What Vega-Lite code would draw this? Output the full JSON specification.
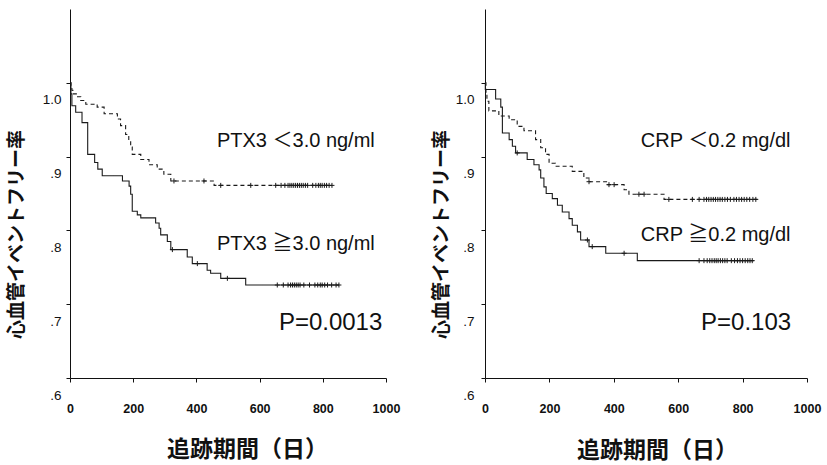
{
  "$schema": "https://vega.github.io/schema/vega-lite/v6.json",
  "background": "white",
  "padding": {"left": 7, "top": 9, "right": 5, "bottom": 5},
  "config": {"view": {"stroke": null}},
  "bounds": "flush",
  "spacing": 99,
  "datasets": {
    "km": [
      {"panel":"PTX3","grp":"low","kind":"step","t":0,"s":1.0},
      {"panel":"PTX3","grp":"low","kind":"step","t":3,"s":0.995},
      {"panel":"PTX3","grp":"low","kind":"step","t":6,"s":0.99},
      {"panel":"PTX3","grp":"low","kind":"step","t":9,"s":0.985},
      {"panel":"PTX3","grp":"low","kind":"step","t":20,"s":0.981},
      {"panel":"PTX3","grp":"low","kind":"step","t":34,"s":0.976},
      {"panel":"PTX3","grp":"low","kind":"step","t":50,"s":0.971},
      {"panel":"PTX3","grp":"low","kind":"step","t":86,"s":0.967},
      {"panel":"PTX3","grp":"low","kind":"step","t":108,"s":0.958},
      {"panel":"PTX3","grp":"low","kind":"step","t":150,"s":0.951},
      {"panel":"PTX3","grp":"low","kind":"step","t":160,"s":0.942},
      {"panel":"PTX3","grp":"low","kind":"step","t":176,"s":0.93},
      {"panel":"PTX3","grp":"low","kind":"step","t":186,"s":0.921},
      {"panel":"PTX3","grp":"low","kind":"step","t":192,"s":0.913},
      {"panel":"PTX3","grp":"low","kind":"step","t":197,"s":0.903},
      {"panel":"PTX3","grp":"low","kind":"step","t":224,"s":0.896},
      {"panel":"PTX3","grp":"low","kind":"step","t":250,"s":0.889},
      {"panel":"PTX3","grp":"low","kind":"step","t":276,"s":0.883},
      {"panel":"PTX3","grp":"low","kind":"step","t":297,"s":0.876},
      {"panel":"PTX3","grp":"low","kind":"step","t":319,"s":0.867},
      {"panel":"PTX3","grp":"low","kind":"step","t":456,"s":0.861},
      {"panel":"PTX3","grp":"low","kind":"step","t":829,"s":0.861},
      {"panel":"PTX3","grp":"high","kind":"step","t":0,"s":1.0},
      {"panel":"PTX3","grp":"high","kind":"step","t":3,"s":0.985},
      {"panel":"PTX3","grp":"high","kind":"step","t":6,"s":0.969},
      {"panel":"PTX3","grp":"high","kind":"step","t":18,"s":0.96},
      {"panel":"PTX3","grp":"high","kind":"step","t":38,"s":0.946},
      {"panel":"PTX3","grp":"high","kind":"step","t":56,"s":0.903},
      {"panel":"PTX3","grp":"high","kind":"step","t":78,"s":0.892},
      {"panel":"PTX3","grp":"high","kind":"step","t":88,"s":0.883},
      {"panel":"PTX3","grp":"high","kind":"step","t":102,"s":0.874},
      {"panel":"PTX3","grp":"high","kind":"step","t":166,"s":0.867},
      {"panel":"PTX3","grp":"high","kind":"step","t":187,"s":0.86},
      {"panel":"PTX3","grp":"high","kind":"step","t":192,"s":0.849},
      {"panel":"PTX3","grp":"high","kind":"step","t":197,"s":0.826},
      {"panel":"PTX3","grp":"high","kind":"step","t":213,"s":0.821},
      {"panel":"PTX3","grp":"high","kind":"step","t":224,"s":0.817},
      {"panel":"PTX3","grp":"high","kind":"step","t":271,"s":0.81},
      {"panel":"PTX3","grp":"high","kind":"step","t":282,"s":0.803},
      {"panel":"PTX3","grp":"high","kind":"step","t":287,"s":0.794},
      {"panel":"PTX3","grp":"high","kind":"step","t":308,"s":0.785},
      {"panel":"PTX3","grp":"high","kind":"step","t":319,"s":0.774},
      {"panel":"PTX3","grp":"high","kind":"step","t":371,"s":0.764},
      {"panel":"PTX3","grp":"high","kind":"step","t":387,"s":0.755},
      {"panel":"PTX3","grp":"high","kind":"step","t":434,"s":0.746},
      {"panel":"PTX3","grp":"high","kind":"step","t":445,"s":0.742},
      {"panel":"PTX3","grp":"high","kind":"step","t":477,"s":0.735},
      {"panel":"PTX3","grp":"high","kind":"step","t":556,"s":0.726},
      {"panel":"PTX3","grp":"high","kind":"step","t":851,"s":0.726},
      {"panel":"PTX3","grp":"low","kind":"censor","t":329,"s":0.867},
      {"panel":"PTX3","grp":"low","kind":"censor","t":424,"s":0.867},
      {"panel":"PTX3","grp":"low","kind":"censor","t":477,"s":0.861},
      {"panel":"PTX3","grp":"low","kind":"censor","t":572,"s":0.861},
      {"panel":"PTX3","grp":"low","kind":"censor","t":651,"s":0.861},
      {"panel":"PTX3","grp":"low","kind":"censor","t":668,"s":0.861},
      {"panel":"PTX3","grp":"low","kind":"censor","t":680,"s":0.861},
      {"panel":"PTX3","grp":"low","kind":"censor","t":690,"s":0.861},
      {"panel":"PTX3","grp":"low","kind":"censor","t":696,"s":0.861},
      {"panel":"PTX3","grp":"low","kind":"censor","t":702,"s":0.861},
      {"panel":"PTX3","grp":"low","kind":"censor","t":708,"s":0.861},
      {"panel":"PTX3","grp":"low","kind":"censor","t":714,"s":0.861},
      {"panel":"PTX3","grp":"low","kind":"censor","t":720,"s":0.861},
      {"panel":"PTX3","grp":"low","kind":"censor","t":726,"s":0.861},
      {"panel":"PTX3","grp":"low","kind":"censor","t":732,"s":0.861},
      {"panel":"PTX3","grp":"low","kind":"censor","t":738,"s":0.861},
      {"panel":"PTX3","grp":"low","kind":"censor","t":745,"s":0.861},
      {"panel":"PTX3","grp":"low","kind":"censor","t":752,"s":0.861},
      {"panel":"PTX3","grp":"low","kind":"censor","t":768,"s":0.861},
      {"panel":"PTX3","grp":"low","kind":"censor","t":778,"s":0.861},
      {"panel":"PTX3","grp":"low","kind":"censor","t":786,"s":0.861},
      {"panel":"PTX3","grp":"low","kind":"censor","t":792,"s":0.861},
      {"panel":"PTX3","grp":"low","kind":"censor","t":798,"s":0.861},
      {"panel":"PTX3","grp":"low","kind":"censor","t":805,"s":0.861},
      {"panel":"PTX3","grp":"low","kind":"censor","t":812,"s":0.861},
      {"panel":"PTX3","grp":"low","kind":"censor","t":820,"s":0.861},
      {"panel":"PTX3","grp":"low","kind":"censor","t":829,"s":0.861},
      {"panel":"PTX3","grp":"high","kind":"censor","t":324,"s":0.774},
      {"panel":"PTX3","grp":"high","kind":"censor","t":403,"s":0.755},
      {"panel":"PTX3","grp":"high","kind":"censor","t":498,"s":0.735},
      {"panel":"PTX3","grp":"high","kind":"censor","t":656,"s":0.726},
      {"panel":"PTX3","grp":"high","kind":"censor","t":675,"s":0.726},
      {"panel":"PTX3","grp":"high","kind":"censor","t":690,"s":0.726},
      {"panel":"PTX3","grp":"high","kind":"censor","t":698,"s":0.726},
      {"panel":"PTX3","grp":"high","kind":"censor","t":704,"s":0.726},
      {"panel":"PTX3","grp":"high","kind":"censor","t":710,"s":0.726},
      {"panel":"PTX3","grp":"high","kind":"censor","t":716,"s":0.726},
      {"panel":"PTX3","grp":"high","kind":"censor","t":722,"s":0.726},
      {"panel":"PTX3","grp":"high","kind":"censor","t":728,"s":0.726},
      {"panel":"PTX3","grp":"high","kind":"censor","t":740,"s":0.726},
      {"panel":"PTX3","grp":"high","kind":"censor","t":758,"s":0.726},
      {"panel":"PTX3","grp":"high","kind":"censor","t":775,"s":0.726},
      {"panel":"PTX3","grp":"high","kind":"censor","t":784,"s":0.726},
      {"panel":"PTX3","grp":"high","kind":"censor","t":792,"s":0.726},
      {"panel":"PTX3","grp":"high","kind":"censor","t":798,"s":0.726},
      {"panel":"PTX3","grp":"high","kind":"censor","t":806,"s":0.726},
      {"panel":"PTX3","grp":"high","kind":"censor","t":815,"s":0.726},
      {"panel":"PTX3","grp":"high","kind":"censor","t":828,"s":0.726},
      {"panel":"PTX3","grp":"high","kind":"censor","t":842,"s":0.726},
      {"panel":"PTX3","grp":"high","kind":"censor","t":851,"s":0.726},
      {"panel":"CRP","grp":"low","kind":"step","t":0,"s":1.0},
      {"panel":"CRP","grp":"low","kind":"step","t":3,"s":0.985},
      {"panel":"CRP","grp":"low","kind":"step","t":6,"s":0.975},
      {"panel":"CRP","grp":"low","kind":"step","t":12,"s":0.962},
      {"panel":"CRP","grp":"low","kind":"step","t":43,"s":0.955},
      {"panel":"CRP","grp":"low","kind":"step","t":75,"s":0.95},
      {"panel":"CRP","grp":"low","kind":"step","t":100,"s":0.941},
      {"panel":"CRP","grp":"low","kind":"step","t":121,"s":0.935},
      {"panel":"CRP","grp":"low","kind":"step","t":157,"s":0.923},
      {"panel":"CRP","grp":"low","kind":"step","t":173,"s":0.912},
      {"panel":"CRP","grp":"low","kind":"step","t":188,"s":0.903},
      {"panel":"CRP","grp":"low","kind":"step","t":199,"s":0.891},
      {"panel":"CRP","grp":"low","kind":"step","t":219,"s":0.887},
      {"panel":"CRP","grp":"low","kind":"step","t":271,"s":0.88},
      {"panel":"CRP","grp":"low","kind":"step","t":307,"s":0.871},
      {"panel":"CRP","grp":"low","kind":"step","t":323,"s":0.866},
      {"panel":"CRP","grp":"low","kind":"step","t":380,"s":0.862},
      {"panel":"CRP","grp":"low","kind":"step","t":432,"s":0.855},
      {"panel":"CRP","grp":"low","kind":"step","t":447,"s":0.849},
      {"panel":"CRP","grp":"low","kind":"step","t":556,"s":0.842},
      {"panel":"CRP","grp":"low","kind":"step","t":851,"s":0.842},
      {"panel":"CRP","grp":"high","kind":"step","t":0,"s":1.0},
      {"panel":"CRP","grp":"high","kind":"step","t":1,"s":0.991},
      {"panel":"CRP","grp":"high","kind":"step","t":33,"s":0.978},
      {"panel":"CRP","grp":"high","kind":"step","t":49,"s":0.967},
      {"panel":"CRP","grp":"high","kind":"step","t":54,"s":0.932},
      {"panel":"CRP","grp":"high","kind":"step","t":75,"s":0.923},
      {"panel":"CRP","grp":"high","kind":"step","t":85,"s":0.914},
      {"panel":"CRP","grp":"high","kind":"step","t":95,"s":0.905},
      {"panel":"CRP","grp":"high","kind":"step","t":131,"s":0.896},
      {"panel":"CRP","grp":"high","kind":"step","t":152,"s":0.889},
      {"panel":"CRP","grp":"high","kind":"step","t":168,"s":0.882},
      {"panel":"CRP","grp":"high","kind":"step","t":173,"s":0.871},
      {"panel":"CRP","grp":"high","kind":"step","t":183,"s":0.859},
      {"panel":"CRP","grp":"high","kind":"step","t":190,"s":0.85},
      {"panel":"CRP","grp":"high","kind":"step","t":209,"s":0.843},
      {"panel":"CRP","grp":"high","kind":"step","t":225,"s":0.834},
      {"panel":"CRP","grp":"high","kind":"step","t":240,"s":0.825},
      {"panel":"CRP","grp":"high","kind":"step","t":261,"s":0.816},
      {"panel":"CRP","grp":"high","kind":"step","t":271,"s":0.807},
      {"panel":"CRP","grp":"high","kind":"step","t":287,"s":0.798},
      {"panel":"CRP","grp":"high","kind":"step","t":297,"s":0.787},
      {"panel":"CRP","grp":"high","kind":"step","t":323,"s":0.778},
      {"panel":"CRP","grp":"high","kind":"step","t":375,"s":0.769},
      {"panel":"CRP","grp":"high","kind":"step","t":473,"s":0.759},
      {"panel":"CRP","grp":"high","kind":"step","t":835,"s":0.759},
      {"panel":"CRP","grp":"low","kind":"censor","t":323,"s":0.866},
      {"panel":"CRP","grp":"low","kind":"censor","t":385,"s":0.862},
      {"panel":"CRP","grp":"low","kind":"censor","t":401,"s":0.862},
      {"panel":"CRP","grp":"low","kind":"censor","t":478,"s":0.849},
      {"panel":"CRP","grp":"low","kind":"censor","t":494,"s":0.849},
      {"panel":"CRP","grp":"low","kind":"censor","t":571,"s":0.842},
      {"panel":"CRP","grp":"low","kind":"censor","t":644,"s":0.842},
      {"panel":"CRP","grp":"low","kind":"censor","t":665,"s":0.842},
      {"panel":"CRP","grp":"low","kind":"censor","t":680,"s":0.842},
      {"panel":"CRP","grp":"low","kind":"censor","t":688,"s":0.842},
      {"panel":"CRP","grp":"low","kind":"censor","t":695,"s":0.842},
      {"panel":"CRP","grp":"low","kind":"censor","t":702,"s":0.842},
      {"panel":"CRP","grp":"low","kind":"censor","t":709,"s":0.842},
      {"panel":"CRP","grp":"low","kind":"censor","t":716,"s":0.842},
      {"panel":"CRP","grp":"low","kind":"censor","t":723,"s":0.842},
      {"panel":"CRP","grp":"low","kind":"censor","t":730,"s":0.842},
      {"panel":"CRP","grp":"low","kind":"censor","t":737,"s":0.842},
      {"panel":"CRP","grp":"low","kind":"censor","t":745,"s":0.842},
      {"panel":"CRP","grp":"low","kind":"censor","t":753,"s":0.842},
      {"panel":"CRP","grp":"low","kind":"censor","t":762,"s":0.842},
      {"panel":"CRP","grp":"low","kind":"censor","t":773,"s":0.842},
      {"panel":"CRP","grp":"low","kind":"censor","t":781,"s":0.842},
      {"panel":"CRP","grp":"low","kind":"censor","t":789,"s":0.842},
      {"panel":"CRP","grp":"low","kind":"censor","t":797,"s":0.842},
      {"panel":"CRP","grp":"low","kind":"censor","t":805,"s":0.842},
      {"panel":"CRP","grp":"low","kind":"censor","t":813,"s":0.842},
      {"panel":"CRP","grp":"low","kind":"censor","t":822,"s":0.842},
      {"panel":"CRP","grp":"low","kind":"censor","t":832,"s":0.842},
      {"panel":"CRP","grp":"low","kind":"censor","t":841,"s":0.842},
      {"panel":"CRP","grp":"high","kind":"censor","t":100,"s":0.905},
      {"panel":"CRP","grp":"high","kind":"censor","t":318,"s":0.787},
      {"panel":"CRP","grp":"high","kind":"censor","t":333,"s":0.778},
      {"panel":"CRP","grp":"high","kind":"censor","t":432,"s":0.769},
      {"panel":"CRP","grp":"high","kind":"censor","t":665,"s":0.759},
      {"panel":"CRP","grp":"high","kind":"censor","t":680,"s":0.759},
      {"panel":"CRP","grp":"high","kind":"censor","t":690,"s":0.759},
      {"panel":"CRP","grp":"high","kind":"censor","t":698,"s":0.759},
      {"panel":"CRP","grp":"high","kind":"censor","t":705,"s":0.759},
      {"panel":"CRP","grp":"high","kind":"censor","t":712,"s":0.759},
      {"panel":"CRP","grp":"high","kind":"censor","t":718,"s":0.759},
      {"panel":"CRP","grp":"high","kind":"censor","t":724,"s":0.759},
      {"panel":"CRP","grp":"high","kind":"censor","t":731,"s":0.759},
      {"panel":"CRP","grp":"high","kind":"censor","t":738,"s":0.759},
      {"panel":"CRP","grp":"high","kind":"censor","t":745,"s":0.759},
      {"panel":"CRP","grp":"high","kind":"censor","t":752,"s":0.759},
      {"panel":"CRP","grp":"high","kind":"censor","t":765,"s":0.759},
      {"panel":"CRP","grp":"high","kind":"censor","t":775,"s":0.759},
      {"panel":"CRP","grp":"high","kind":"censor","t":784,"s":0.759},
      {"panel":"CRP","grp":"high","kind":"censor","t":792,"s":0.759},
      {"panel":"CRP","grp":"high","kind":"censor","t":800,"s":0.759},
      {"panel":"CRP","grp":"high","kind":"censor","t":808,"s":0.759},
      {"panel":"CRP","grp":"high","kind":"censor","t":816,"s":0.759},
      {"panel":"CRP","grp":"high","kind":"censor","t":823,"s":0.759},
      {"panel":"CRP","grp":"high","kind":"censor","t":830,"s":0.759}
    ],
    "notes": [
      {"panel":"PTX3","kind":"group","t":465,"s":0.921,"label":"PTX3 ＜3.0 ng/ml"},
      {"panel":"PTX3","kind":"group","t":465,"s":0.782,"label":"PTX3 ≧3.0 ng/ml"},
      {"panel":"PTX3","kind":"p","t":661,"s":0.674,"label":"P=0.0013"},
      {"panel":"CRP","kind":"group","t":484,"s":0.921,"label":"CRP ＜0.2 mg/dl"},
      {"panel":"CRP","kind":"group","t":484,"s":0.794,"label":"CRP ≧0.2 mg/dl"},
      {"panel":"CRP","kind":"p","t":671,"s":0.675,"label":"P=0.103"}
    ]
  },
  "hconcat": [
    {
      "width": 316,
      "height": 369,
      "encoding": {
        "x": {"field": "t", "type": "quantitative", "scale": {"domain": [0, 1000], "nice": false},
          "axis": {"title": "追跡期間（日）", "values": [0, 200, 400, 600, 800, 1000], "format": "d", "grid": false, "domainColor": "#111", "tickColor": "#111", "tickSize": 4, "labelPadding": 20, "labelFlush": false, "labelFontSize": 12.5, "labelFont": "Liberation Sans", "labelFontWeight": "bold", "labelColor": "#111", "titleFont": "Noto Sans CJK JP", "titleFontSize": 23, "titleFontWeight": "bold", "titleColor": "#111", "titleX": 177, "titleY": 71, "titleBaseline": "middle", "titleAlign": "center"}},
        "y": {"field": "s", "type": "quantitative", "scale": {"domain": [0.6, 1.1], "nice": false, "zero": false},
          "axis": {"title": "心血管イベントフリー率", "values": [0.6, 0.7, 0.8, 0.9, 1.0], "labelExpr": "datum.value > 0.99 ? '1.0' : replace(format(datum.value, '.1f'), '0.', '.')", "grid": false, "domainColor": "#111", "tickColor": "#111", "tickSize": 4, "labelPadding": 5, "labelOffset": 17, "labelFlush": false, "labelOverlap": false, "labelFontSize": 13.5, "labelFont": "Liberation Sans", "labelColor": "#111", "titleFont": "Noto Sans CJK JP", "titleFontSize": 19, "titleFontWeight": "bold", "titleColor": "#111", "titleAngle": -90, "titleX": -54, "titleY": 225, "titleBaseline": "middle", "titleAlign": "center"}}
      },
      "layer": [
        {
          "data": {"name": "km"},
          "transform": [{"filter": "datum.panel == 'PTX3' && datum.kind == 'step'"}],
          "mark": {"type": "line", "interpolate": "step-after", "color": "#1a1a1a", "strokeWidth": 1.1},
          "encoding": {
            "strokeDash": {"field": "grp", "type": "nominal", "scale": {"domain": ["low", "high"], "range": [[4, 3], [1, 0]]}, "legend": null}
          }
        },
        {
          "data": {"name": "km"},
          "transform": [{"filter": "datum.panel == 'PTX3' && datum.kind == 'censor'"}],
          "mark": {"type": "point", "shape": "M-1,0H1M0,-1V1", "size": 25, "filled": false, "stroke": "#1a1a1a", "strokeWidth": 1, "opacity": 1}
        },
        {
          "data": {"name": "notes"},
          "transform": [{"filter": "datum.panel == 'PTX3' && datum.kind == 'group'"}],
          "mark": {"type": "text", "align": "left", "baseline": "middle", "fontSize": 20, "font": "Liberation Sans, Noto Sans CJK JP", "color": "#111"},
          "encoding": {"text": {"field": "label"}}
        },
        {
          "data": {"name": "notes"},
          "transform": [{"filter": "datum.panel == 'PTX3' && datum.kind == 'p'"}],
          "mark": {"type": "text", "align": "left", "baseline": "middle", "fontSize": 24, "font": "Liberation Sans", "color": "#111"},
          "encoding": {"text": {"field": "label"}}
        }
      ]
    },
    {
      "width": 322,
      "height": 369,
      "encoding": {
        "x": {"field": "t", "type": "quantitative", "scale": {"domain": [0, 1000], "nice": false},
          "axis": {"title": "追跡期間（日）", "values": [0, 200, 400, 600, 800, 1000], "format": "d", "grid": false, "domainColor": "#111", "tickColor": "#111", "tickSize": 4, "labelPadding": 20, "labelFlush": false, "labelFontSize": 12.5, "labelFont": "Liberation Sans", "labelFontWeight": "bold", "labelColor": "#111", "titleFont": "Noto Sans CJK JP", "titleFontSize": 23, "titleFontWeight": "bold", "titleColor": "#111", "titleX": 172, "titleY": 72, "titleBaseline": "middle", "titleAlign": "center"}},
        "y": {"field": "s", "type": "quantitative", "scale": {"domain": [0.6, 1.1], "nice": false, "zero": false},
          "axis": {"title": "心血管イベントフリー率", "values": [0.6, 0.7, 0.8, 0.9, 1.0], "labelExpr": "datum.value > 0.99 ? '1.0' : replace(format(datum.value, '.1f'), '0.', '.')", "grid": false, "domainColor": "#111", "tickColor": "#111", "tickSize": 4, "labelPadding": 7, "labelOffset": 17, "labelFlush": false, "labelOverlap": false, "labelFontSize": 13.5, "labelFont": "Liberation Sans", "labelColor": "#111", "titleFont": "Noto Sans CJK JP", "titleFontSize": 19, "titleFontWeight": "bold", "titleColor": "#111", "titleAngle": -90, "titleX": -44, "titleY": 225, "titleBaseline": "middle", "titleAlign": "center"}}
      },
      "layer": [
        {
          "data": {"name": "km"},
          "transform": [{"filter": "datum.panel == 'CRP' && datum.kind == 'step'"}],
          "mark": {"type": "line", "interpolate": "step-after", "color": "#1a1a1a", "strokeWidth": 1.1},
          "encoding": {
            "strokeDash": {"field": "grp", "type": "nominal", "scale": {"domain": ["low", "high"], "range": [[4, 3], [1, 0]]}, "legend": null}
          }
        },
        {
          "data": {"name": "km"},
          "transform": [{"filter": "datum.panel == 'CRP' && datum.kind == 'censor'"}],
          "mark": {"type": "point", "shape": "M-1,0H1M0,-1V1", "size": 25, "filled": false, "stroke": "#1a1a1a", "strokeWidth": 1, "opacity": 1}
        },
        {
          "data": {"name": "notes"},
          "transform": [{"filter": "datum.panel == 'CRP' && datum.kind == 'group'"}],
          "mark": {"type": "text", "align": "left", "baseline": "middle", "fontSize": 20, "font": "Liberation Sans, Noto Sans CJK JP", "color": "#111"},
          "encoding": {"text": {"field": "label"}}
        },
        {
          "data": {"name": "notes"},
          "transform": [{"filter": "datum.panel == 'CRP' && datum.kind == 'p'"}],
          "mark": {"type": "text", "align": "left", "baseline": "middle", "fontSize": 24, "font": "Liberation Sans", "color": "#111"},
          "encoding": {"text": {"field": "label"}}
        }
      ]
    }
  ]
}
